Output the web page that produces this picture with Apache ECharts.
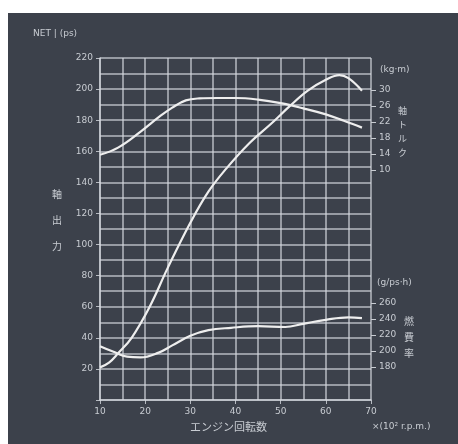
<!DOCTYPE html>
<html>
<head>
<meta charset="utf-8">
<script src="https://cdn.jsdelivr.net/npm/echarts@6/dist/echarts.min.js"></script>
<style>
  html, body { margin: 0; padding: 0; background: #fff; }
  #chart { width: 458px; height: 444px; }
</style>
</head>
<body>
<div id="chart"></div>
<script>
// エンジン性能曲線 — 軸出力 / 軸トルク / 燃費率
const powerRpm = [10, 12, 14, 17, 21, 25, 30, 34, 38, 43, 48, 52, 56, 60, 63, 65, 68]
const powerPs = [21, 24, 30, 40, 60, 85, 114, 134, 149, 165, 178, 189, 199, 206, 209, 207, 199]

const torqueRpm = [10, 14, 19, 23, 26, 29, 32, 36, 40, 45, 50, 55, 60, 64, 68]
const torqueKgm = [13.8, 15.6, 19.6, 23.2, 25.6, 27.4, 27.9, 28.0, 28.0, 27.6, 26.7, 25.4, 23.9, 22.3, 20.6]

const fuelRpm = [10, 13, 16, 19, 23, 26, 30, 34, 39, 45, 51, 55, 60, 65, 68]
const fuelGpsh = [206, 199, 193, 192, 198, 207, 219, 226, 229, 231, 230, 234, 239, 242, 241]

const torqueTicks = [10, 14, 18, 22, 26, 30]
const fuelTicks = [180, 200, 220, 240, 260]

const zip = (xs, ys) => xs.map((x, i) => [x, ys[i]])

const txt = '#c8ccd2'
const gridLine = 'rgba(212,216,222,0.8)'
const curve = '#eeeeee'
const font = 'DejaVu Sans'

const chart = echarts.init(document.getElementById('chart'))

chart.setOption({
  backgroundColor: '#ffffff',
  animation: false,
  grid: { left: 100, right: 87, top: 58, bottom: 44 },
  graphic: [
    { type: 'rect', z: -10, shape: { x: 8, y: 13, width: 450, height: 431 }, style: { fill: '#3c414b' } },
    { type: 'text', left: 33, top: 29, style: { text: 'NET | (ps)', fill: txt, font: `9px "${font}"` } },
    { type: 'text', left: 52, top: 181, style: { text: '軸\n出\n力', fill: txt, font: `10px "Noto Sans CJK JP"`, lineHeight: 26 } },
    { type: 'text', left: 380, top: 65, style: { text: '(kg·m)', fill: txt, font: `9px "${font}"` } },
    { type: 'text', left: 398, top: 104, style: { text: '軸\nト\nル\nク', fill: txt, font: `9px "Noto Sans CJK JP"`, lineHeight: 14 } },
    { type: 'text', left: 377, top: 278, style: { text: '(g/ps·h)', fill: txt, font: `9px "${font}"` } },
    { type: 'text', left: 404, top: 313, style: { text: '燃\n費\n率', fill: txt, font: `10px "Noto Sans CJK JP"`, lineHeight: 16 } },
    { type: 'text', left: 190, top: 421, style: { text: 'エンジン回転数', fill: txt, font: `11px "Noto Sans CJK JP"` } },
    { type: 'text', left: 372, top: 422, style: { text: '×(10² r.p.m.)', fill: txt, font: `9px "${font}"` } }
  ],
  xAxis: [
    {
      type: 'value',
      min: 10,
      max: 70,
      interval: 10,
      axisLine: { show: true, lineStyle: { color: gridLine, width: 1.5 } },
      axisTick: { show: true, length: 4, lineStyle: { color: gridLine } },
      axisLabel: { color: txt, fontSize: 9, fontFamily: font, margin: 7 },
      splitLine: { show: false }
    },
    {
      // 方眼（5刻み）
      type: 'value',
      min: 10,
      max: 70,
      interval: 5,
      position: 'bottom',
      axisLine: { show: false },
      axisTick: { show: false },
      axisLabel: { show: false },
      splitLine: { show: true, lineStyle: { color: gridLine, width: 1.5 } }
    }
  ],
  yAxis: [
    {
      type: 'value',
      min: 0,
      max: 220,
      interval: 20,
      position: 'left',
      axisLine: { show: true, lineStyle: { color: gridLine, width: 1.5 } },
      axisTick: { show: true, length: 4, lineStyle: { color: gridLine } },
      axisLabel: { color: txt, fontSize: 9, fontFamily: font, margin: 7, formatter: v => (v === 0 ? '' : v) },
      splitLine: { show: false }
    },
    {
      type: 'value',
      min: -47.5,
      max: 38,
      position: 'right',
      axisLine: { show: false },
      axisTick: { show: true, customValues: torqueTicks, length: 5, lineStyle: { color: txt } },
      axisLabel: { customValues: torqueTicks, color: txt, fontSize: 9, fontFamily: font, margin: 8 },
      splitLine: { show: false }
    },
    {
      type: 'value',
      min: 138.75,
      max: 566.25,
      position: 'right',
      axisLine: { show: false },
      axisTick: { show: true, customValues: fuelTicks, length: 5, lineStyle: { color: txt } },
      axisLabel: { customValues: fuelTicks, color: txt, fontSize: 9, fontFamily: font, margin: 8 },
      splitLine: { show: false }
    },
    {
      // 方眼（10刻み）
      type: 'value',
      min: 0,
      max: 220,
      interval: 10,
      position: 'left',
      axisLine: { show: false },
      axisTick: { show: false },
      axisLabel: { show: false },
      splitLine: { show: true, lineStyle: { color: gridLine, width: 1.5 } }
    }
  ],
  series: [
    {
      name: '軸出力',
      type: 'line',
      yAxisIndex: 0,
      data: zip(powerRpm, powerPs),
      smooth: 0.4,
      symbol: 'none',
      lineStyle: { color: curve, width: 2.2 }
    },
    {
      name: '軸トルク',
      type: 'line',
      yAxisIndex: 1,
      data: zip(torqueRpm, torqueKgm),
      smooth: 0.4,
      symbol: 'none',
      lineStyle: { color: curve, width: 2.2 }
    },
    {
      name: '燃費率',
      type: 'line',
      yAxisIndex: 2,
      data: zip(fuelRpm, fuelGpsh),
      smooth: 0.4,
      symbol: 'none',
      lineStyle: { color: curve, width: 2.2 }
    }
  ]
})
</script>
</body>
</html>
